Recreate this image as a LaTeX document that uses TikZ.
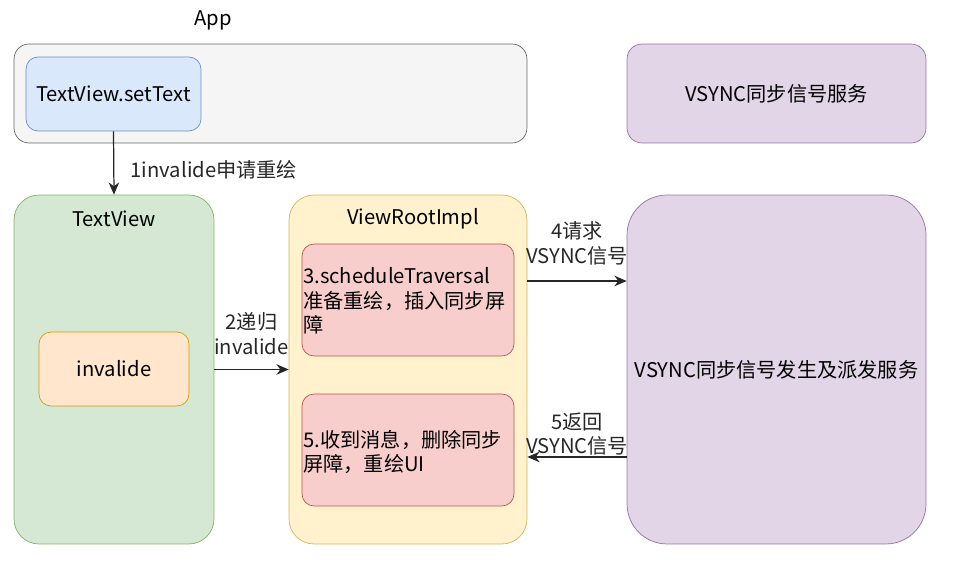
\documentclass[tikz,border=0pt]{standalone}
\usepackage{fontspec}
\setmainfont{Noto Sans CJK SC}
\usepackage{xcolor}
\usepackage{tikz}
\usetikzlibrary{calc,arrows.meta,positioning}
\definecolor{appfill}{HTML}{F5F5F5}\definecolor{appline}{HTML}{666666}
\definecolor{bluefill}{HTML}{DAE8FC}\definecolor{blueline}{HTML}{6C8EBF}
\definecolor{purpfill}{HTML}{E1D5E7}\definecolor{purpline}{HTML}{9673A6}
\definecolor{greenfill}{HTML}{D5E8D4}\definecolor{greenline}{HTML}{82B366}
\definecolor{orgfill}{HTML}{FFE6CC}\definecolor{orgline}{HTML}{D79B00}
\definecolor{yelfill}{HTML}{FFF2CC}\definecolor{yelline}{HTML}{D6B656}
\definecolor{redfill}{HTML}{F8CECC}\definecolor{redline}{HTML}{B85450}
\tikzset{
  box/.style={draw, rectangle, rounded corners=0.24cm, text centered, inner sep=2pt},
  panel/.style={draw, rectangle, text centered},
  txt/.style={font=\fontsize{11.5}{13.8}\selectfont},
  link/.style={-{Stealth[length=7pt,width=6pt]}, line width=0.7pt, black!85}
}
\begin{document}
\begin{tikzpicture}[x=0.02cm, y=-0.02cm, txt]
  \useasboundingbox (0,0) rectangle (963,573);
  % top row
  \node at (213,20) (apptitle) {App};
  \node[panel, rounded corners=0.3cm, fill=appfill, draw=appline, minimum width=10.26cm, minimum height=1.98cm] at (270.5,93.5) (app) {};
  \node[box, fill=bluefill, draw=blueline, minimum width=3.5cm, minimum height=1.48cm] at (113.5,94) (settext) {TextView.setText};
  \node[panel, rounded corners=0.3cm, fill=purpfill, draw=purpline, minimum width=5.98cm, minimum height=1.98cm] at (776.5,93.5) (vsyncsvc) {VSYNC同步信号服务};
  % bottom row
  \node[panel, rounded corners=0.5cm, fill=greenfill, draw=greenline, minimum width=4cm, minimum height=6.98cm] at (114,369.5) (textview) {};
  \node at (114,219) (tvtitle) {TextView};
  \node[box, fill=orgfill, draw=orgline, minimum width=3cm, minimum height=1.48cm] at (114,369) (invalide) {invalide};
  \node[panel, rounded corners=0.5cm, fill=yelfill, draw=yelline, minimum width=4.76cm, minimum height=6.98cm] at (408,369.5) (viewroot) {};
  \node at (413,219) (vrtitle) {ViewRootImpl};
  \node[box, fill=redfill, draw=redline, minimum width=4.24cm, minimum height=2.24cm] at (408,300) (sched) {};
  \node[anchor=west, align=left, inner sep=0pt] at (303,301) (schedtext) {3.scheduleTraversal\\准备重绘，插入同步屏\\障};
  \node[box, fill=redfill, draw=redline, minimum width=4.24cm, minimum height=2.24cm] at (408,450) (redraw) {};
  \node[anchor=west, align=left, inner sep=0pt] at (303,452) (redrawtext) {5.收到消息，删除同步\\屏障，重绘UI};
  \node[panel, rounded corners=0.8cm, fill=purpfill, draw=purpline, minimum width=5.98cm, minimum height=6.98cm] at (776.5,369.5) (vsync) {VSYNC同步信号发生及派发服务};
  % arrows
  \coordinate (req) at (577,281);
  \coordinate (ret) at (577,457);
  \draw[link] (settext.south) -- (textview.north) node[midway, right=6pt, yshift=-0.14cm] (lbl1) {1invalide申请重绘};
  \draw[link] (textview.east) -- (viewroot.west) node[midway, above=1pt, yshift=0.14cm, align=center] (lbl2) {2递归\\invalide};
  \draw[link] (viewroot.east |- req) -- (vsync.west |- req) node[midway, above=1pt, yshift=0.16cm, align=center] (lbl4) {4请求\\VSYNC信号};
  \draw[link] (vsync.west |- ret) -- (viewroot.east |- ret) node[midway, above=1pt, yshift=-0.13cm, align=center] (lbl5) {5返回\\VSYNC信号};
\end{tikzpicture}
\end{document}
